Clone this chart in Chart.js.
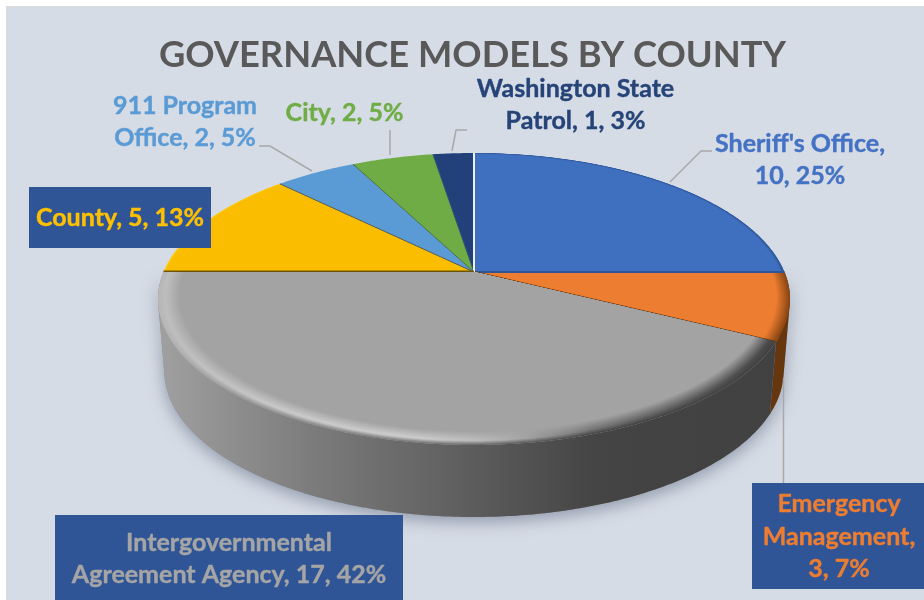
<!DOCTYPE html>
<html><head><meta charset="utf-8">
<style>html,body{margin:0;padding:0;background:#fff}canvas{display:block}</style>
<script src="https://cdn.jsdelivr.net/npm/chart.js@4"></script>
</head><body><canvas id="c" width="924" height="600"></canvas>
<script>
const categories = ["Sheriff's Office","Emergency Management","Intergovernmental Agreement Agency","County","911 Program Office","City","Washington State Patrol"];
const counts = [10,3,17,5,2,2,1];
const percents = ["25%","7%","42%","13%","5%","5%","3%"];
const sliceColors = ["#3f6fbf","#ed7d31","#a3a3a3","#fbbd00","#5b9bd5","#6fac46","#22407a"];
const labelLines = [
  ["Sheriff's Office,","10, 25%"],
  ["Emergency","Management,","3, 7%"],
  ["Intergovernmental","Agreement Agency, 17, 42%"],
  ["County, 5, 13%"],
  ["911 Program","Office, 2, 5%"],
  ["City, 2, 5%"],
  ["Washington State","Patrol, 1, 3%"]
];
const titleText = "GOVERNANCE MODELS BY COUNTY";

// ---- style and layout, separate from the data ----
const FONT = 'Lato, "Open Sans", sans-serif';
const labelFontPx = 25;
const labelPos = [
  {x:800,y:[152,184]},
  {x:839,y:[512,545,577],box:[752,483,172,106]},
  {x:229,y:[551,583],box:[55,515,348,85]},
  {x:120,y:[226],box:[29,187,182,61]},
  {x:185,y:[114,146]},
  {x:344.5,y:[121]},
  {x:575.5,y:[97,129]}
];
const labelColors = ["#4472c4","#ed7d31","#a5a5a5","#ffc000","#5b9bd5","#70ad47","#264478"];
const leaders = [
  [[670,182],[701,151],[712,151]],
  [[783.5,378],[783.5,483]],
  [[259,146],[270,146],[312,171]],
  [[390,130],[390,155]],
  [[452,151],[456,130],[467,130]]
];
const edgeColors = ["#2f5597","#6a3a10","#6f5400","#3d5878","#4c6e3c","#2a4c70","#eef0f3"];
const rimStyle = [
  {band:.012,outer:"#2f5597"},
  {band:.04,outer:"#8a4714"},
  null,
  {band:.01,outer:"#ffcc10"},
  null,null,null
];
const CX=474, CY=272, TILT=-0.185, QX=310.5, PY=141, DEPTH=72, BOTTOM_SCALE=.98;

function project(a,r,low){
  const x=r*Math.cos(a), y=r*Math.sin(a), w=1+TILT*y;
  const k=low?BOTTOM_SCALE:1;
  return [CX+k*QX*x/w, CY+PY*y/w+(low?DEPTH:0)];
}
function hex(c){return [1,3,5].map(i=>parseInt(c.substr(i,2),16));}
function mix(a,b,t){const A=hex(a),B=hex(b);return "rgb("+A.map((v,i)=>Math.round(v+(B[i]-v)*t)).join(",")+")";}
function mixHex(a,b,t){const A=hex(a),B=hex(b);return "#"+A.map((v,i)=>Math.round(v+(B[i]-v)*t).toString(16).padStart(2,"0")).join("");}
function wedge(ctx,arc,r){
  ctx.beginPath();ctx.moveTo(CX,CY);
  const n=Math.max(8,Math.ceil((arc.endAngle-arc.startAngle)*90));
  for(let i=0;i<=n;i++){
    const p=project(arc.startAngle+(arc.endAngle-arc.startAngle)*i/n,r,false);
    ctx.lineTo(p[0],p[1]);
  }
  ctx.closePath();
}
// the wall is the union of one quad per rim step, all wound the same way
function wall(ctx,arc){
  const n=Math.ceil((arc.endAngle-arc.startAngle)*90);
  const A=t=>arc.startAngle+(arc.endAngle-arc.startAngle)*t;
  ctx.beginPath();
  for(let i=0;i<n;i++){
    let q=[project(A(i/n),1,false),project(A((i+1)/n),1,false),project(A((i+1)/n),1,true),project(A(i/n),1,true)];
    let s=0;
    for(let j=0;j<4;j++){const a=q[j],b=q[(j+1)%4];s+=a[0]*b[1]-b[0]*a[1];}
    if(s<0) q=q.reverse();
    q.forEach((p,j)=>j?ctx.lineTo(p[0],p[1]):ctx.moveTo(p[0],p[1]));
    ctx.closePath();
  }
}
const X0=158,X1=790;
const wallStops=[[158,"#a0a0a0"],[300,"#7e7e7e"],[474,"#5c5c5c"],[600,"#444444"],[790,"#414141"]];
const outerStops=[[158,"#b8b8b8"],[210,"#a0a0a0"],[300,"#8c8c8c"],[474,"#6a6a6a"],[600,"#444444"],[790,"#414141"]];
const hiStops=[[158,"#bdbdbd"],[300,"#cccccc"],[420,"#cfcfcf"],[500,"#b4b4b4"],[600,"#6e6e6e"],[790,"#464646"]];
function colorAt(stops,x){
  for(let i=1;i<stops.length;i++) if(x<=stops[i][0]){
    const t=(x-stops[i-1][0])/(stops[i][0]-stops[i-1][0]);
    return mixHex(stops[i-1][1],stops[i][1],t);
  }
  return stops[stops.length-1][1];
}
function linGrad(ctx,fn){
  const g=ctx.createLinearGradient(X0,0,X1,0);
  for(let i=0;i<=16;i++){const x=X0+(X1-X0)*i/16;g.addColorStop(i/16,fn(x));}
  return g;
}

const pie3d={
  id:'pie3d',
  beforeDraw(chart){
    const ctx=chart.ctx;
    ctx.save();
    ctx.fillStyle="#fff";ctx.fillRect(0,0,924,600);
    ctx.fillStyle="#d9d9d9";ctx.fillRect(6,6,918,594);
    ctx.fillStyle="#d6dce5";ctx.fillRect(7,7,917,593);
    ctx.restore();
  },
  beforeDatasetsDraw(chart){
    const ctx=chart.ctx, arcs=chart.getDatasetMeta(0).data;
    ctx.save();
    ctx.save();
    ctx.shadowColor="rgba(90,100,125,.55)";ctx.shadowBlur=16;ctx.shadowOffsetY=5;
    ctx.fillStyle="#8d8f95";
    wall(ctx,arcs[1]);ctx.fill();
    wall(ctx,arcs[2]);ctx.fill();
    ctx.restore();
    ctx.fillStyle="#66360f";wall(ctx,arcs[1]);ctx.fill();
    ctx.fillStyle=linGrad(ctx,x=>colorAt(wallStops,x));wall(ctx,arcs[2]);ctx.fill();
    [6,5,4,3,0,1].forEach(i=>{
      const arc=arcs[i], st=rimStyle[i];
      if(st){
        const K=10;
        for(let k=0;k<=K;k++){
          ctx.fillStyle=mix(st.outer,sliceColors[i],k/K);
          wedge(ctx,arc,1-st.band*k/K);ctx.fill();
        }
      } else {ctx.fillStyle=sliceColors[i];wedge(ctx,arc,1);ctx.fill();}
    });
    arcs.forEach((arc,i)=>{
      if(i===2) return;
      const p=project(arc.endAngle,1,false);
      ctx.strokeStyle=edgeColors[i];ctx.lineWidth=(i===0||i===1||i===6)?2:1;
      ctx.beginPath();ctx.moveTo(CX,CY);ctx.lineTo(p[0],p[1]);ctx.stroke();
    });
    const big=arcs[2], K=18, band=.065, face=sliceColors[2];
    const pe=project(big.endAngle,1,false);
    ctx.strokeStyle=edgeColors[2];ctx.lineWidth=2;
    ctx.beginPath();ctx.moveTo(CX,CY-.5);ctx.lineTo(pe[0],pe[1]-.5);ctx.stroke();
    for(let k=0;k<=K;k++){
      const t=k/K;
      ctx.fillStyle=linGrad(ctx,x=>{
        const w=colorAt(outerStops,x),h=colorAt(hiStops,x);
        return t<.3?mixHex(w,h,t/.3):mixHex(h,face,(t-.3)/.7);
      });
      wedge(ctx,big,1-band*t);ctx.fill();
    }
    ctx.strokeStyle="#a8a8a8";ctx.lineWidth=1.5;
    leaders.forEach(l=>{ctx.beginPath();l.forEach((p,i)=>i?ctx.lineTo(p[0],p[1]):ctx.moveTo(p[0],p[1]));ctx.stroke();});
    ctx.restore();
    return false;
  },
  afterDraw(chart){
    const ctx=chart.ctx;
    ctx.save();
    ctx.textAlign="center";ctx.textBaseline="alphabetic";
    ctx.font="bold "+labelFontPx+"px "+FONT;
    ctx.lineWidth=.4;ctx.lineJoin="round";
    labelLines.forEach((lines,i)=>{
      const pos=labelPos[i];
      if(pos.box){ctx.fillStyle="#2f5597";ctx.fillRect(pos.box[0],pos.box[1],pos.box[2],pos.box[3]);}
      ctx.fillStyle=labelColors[i];ctx.strokeStyle=labelColors[i];
      lines.forEach((s,j)=>{ctx.fillText(s,pos.x,pos.y[j]);ctx.strokeText(s,pos.x,pos.y[j]);});
    });
    ctx.restore();
  }
};
new Chart(document.getElementById('c'),{
  type:'pie',
  data:{labels:categories,datasets:[{data:counts,backgroundColor:sliceColors,borderWidth:0}]},
  options:{
    responsive:false,animation:false,
    layout:{padding:{left:21}},
    plugins:{
      legend:{display:false},tooltip:{enabled:false},
      title:{display:true,text:titleText,color:"#595959",font:{family:FONT,size:36.3,weight:"bold"},padding:{top:34,bottom:0},align:"center"}
    }
  },
  plugins:[pie3d]
});
</script></body></html>
